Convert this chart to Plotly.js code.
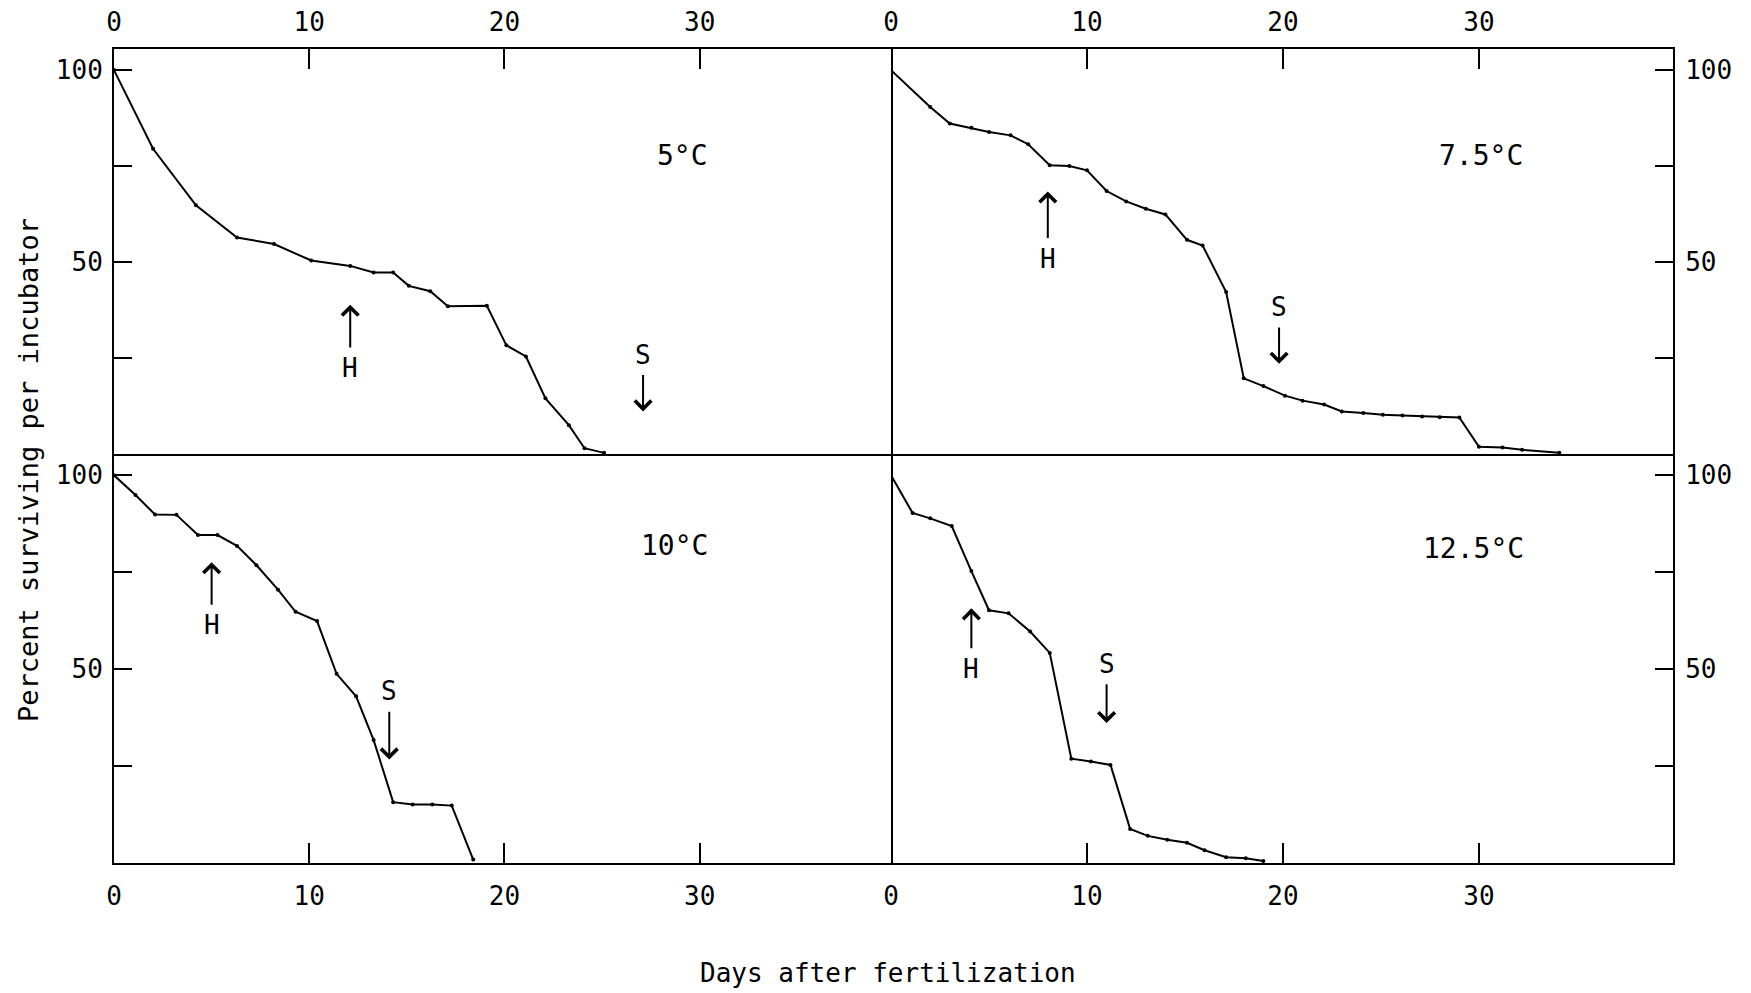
<!DOCTYPE html>
<html>
<head>
<meta charset="utf-8">
<script src="https://cdn.plot.ly/plotly-3.0.1.min.js"></script>
<style>html,body{margin:0;padding:0;background:#fff;}#chart{width:1751px;height:993px;}</style>
</head>
<body>
<div id="chart"></div>
<script>
// ---- data ----
const days5   = [0, 2.0, 4.2, 6.3, 8.2, 10.1, 12.1, 13.3, 14.3, 15.1, 16.2, 17.1, 19.1, 20.1, 21.1, 22.1, 23.3, 24.1, 25.1];
const surv5   = [100, 79.5, 64.8, 56.4, 54.7, 50.4, 49.0, 47.3, 47.3, 43.8, 42.4, 38.5, 38.6, 28.3, 25.4, 14.5, 7.5, 1.5, 0.3];

const days75  = [0, 2.0, 3.0, 4.1, 5.0, 6.1, 7.0, 8.1, 9.1, 10.0, 11.0, 12.0, 13.0, 14.0, 15.1, 15.9, 17.1, 18.0, 19.0, 20.1, 21.0, 22.1, 23.0, 24.1, 25.1, 26.1, 27.1, 28.0, 29.0, 30.0, 31.2, 32.2, 34.1];
const surv75  = [100, 90.4, 86.1, 85.0, 83.9, 83.0, 80.7, 75.2, 75.0, 73.9, 68.5, 65.8, 63.9, 62.4, 55.8, 54.3, 42.2, 19.7, 17.7, 15.2, 13.9, 12.9, 11.1, 10.7, 10.2, 10.0, 9.8, 9.6, 9.5, 1.9, 1.7, 1.1, 0.3];

const days10  = [0, 1.1, 2.1, 3.2, 4.3, 5.3, 6.3, 7.3, 8.4, 9.3, 10.4, 11.4, 12.4, 13.3, 14.3, 15.3, 16.3, 17.3, 18.4];
const surv10  = [100, 94.9, 89.9, 89.8, 84.6, 84.6, 81.8, 76.8, 70.5, 64.8, 62.4, 48.8, 43.0, 31.7, 15.7, 15.1, 15.1, 14.8, 0.9];

const days125 = [0, 1.1, 2.0, 3.1, 4.1, 5.0, 6.0, 7.1, 8.1, 9.2, 10.2, 11.2, 12.2, 13.1, 14.1, 15.1, 16.0, 17.1, 18.1, 19.0];
const surv125 = [100, 90.3, 88.9, 86.9, 75.3, 65.2, 64.4, 59.7, 54.2, 26.9, 26.2, 25.3, 8.8, 7.0, 6.0, 5.2, 3.3, 1.5, 1.2, 0.5];

const panelLabels = ['5°C', '7.5°C', '10°C', '12.5°C'];
const hatchDays   = [12.1, 8.0, 5.0, 4.1];   // "H" arrows
const swimDays    = [27.1, 19.8, 14.1, 11.0]; // "S" arrows

const xTickVals = [0, 10, 20, 30];
const xTickText = ['0', '10', '20', '30'];
const yTickVals = [25, 50, 75, 100];
const yTickText = ['', '50', '', '100'];

const xTitle = 'Days after fertilization';
const yTitle = 'Percent surviving per incubator';

// ---- layout ----
const W = 1751, H = 993;
const FONT = 'DejaVu Sans Mono, monospace';
const xL = [114 / W, 891 / W], xR = [891 / W, 1673 / W];
const yT = [1 - 454 / H, 1 - 49 / H], yB = [1 - 863 / H, 1 - 454 / H];

function trace(x, y, xa, ya) {
  return {x: x, y: y, xaxis: xa, yaxis: ya, type: 'scatter', mode: 'lines+markers',
    line: {color: '#000', width: 2}, marker: {color: '#000', size: 4}, hoverinfo: 'skip', showlegend: false};
}

function xAxis(domain, anchor, side, mirror, standoff) {
  return {domain: domain, anchor: anchor, side: side, range: [0, 39.8],
    tickvals: xTickVals, ticktext: xTickText, ticks: 'inside', ticklen: 20, tickwidth: 2, tickcolor: '#000',
    showline: true, mirror: mirror, linewidth: 2, linecolor: '#000', showgrid: false, zeroline: false,
    tickfont: {family: FONT, size: 26, color: '#000'}, ticklabelstandoff: standoff, fixedrange: true};
}
function yAxis(domain, anchor, side, mirror, standoff) {
  return {domain: domain, anchor: anchor, side: side, range: [0, 105.5],
    tickvals: yTickVals, ticktext: yTickText, ticks: 'inside', ticklen: 18, tickwidth: 2, tickcolor: '#000',
    showline: true, mirror: mirror, linewidth: 2, linecolor: '#000', showgrid: false, zeroline: false,
    tickfont: {family: FONT, size: 26, color: '#000'}, ticklabelstandoff: standoff, fixedrange: true};
}

const data = [
  trace(days5, surv5, 'x', 'y'),
  trace(days75, surv75, 'x2', 'y2'),
  trace(days10, surv10, 'x3', 'y3'),
  trace(days125, surv125, 'x4', 'y4')
];

const refs = [['x', 'y'], ['x2', 'y2'], ['x3', 'y3'], ['x4', 'y4']];
const labelPos = [[29.1, 77.8], [30.1, 77.8], [28.7, 81.8], [29.7, 81.0]];
// [text y, arrow tip y] for H and S in each panel
const hPos = [[22.4, 38.9], [50.9, 68.4], [61.3, 77.6], [50.1, 65.7]];
const sPos = [[25.9, 11.1], [38.3, 23.5], [44.3, 26.7], [51.4, 36.1]];

const annotations = [];
refs.forEach(function (r, i) {
  annotations.push({xref: r[0], yref: r[1], x: labelPos[i][0], y: labelPos[i][1], text: panelLabels[i],
    showarrow: false, font: {family: FONT, size: 28, color: '#000'}});
  annotations.push({xref: r[0], yref: r[1], axref: r[0], ayref: r[1],
    x: hatchDays[i], y: hPos[i][1], ax: hatchDays[i], ay: hPos[i][0], text: 'H',
    showarrow: true, arrowhead: 4, arrowsize: 1.6, arrowwidth: 2, arrowcolor: '#000', startstandoff: 4,
    font: {family: FONT, size: 26, color: '#000'}});
  annotations.push({xref: r[0], yref: r[1], axref: r[0], ayref: r[1],
    x: swimDays[i], y: sPos[i][1], ax: swimDays[i], ay: sPos[i][0], text: 'S',
    showarrow: true, arrowhead: 4, arrowsize: 1.6, arrowwidth: 2, arrowcolor: '#000', startstandoff: 4,
    font: {family: FONT, size: 26, color: '#000'}});
});
annotations.push({xref: 'paper', yref: 'paper', x: 888 / W, y: 1 - 973 / H, xanchor: 'center', yanchor: 'middle',
  text: xTitle, showarrow: false, font: {family: FONT, size: 26, color: '#000'}});
annotations.push({xref: 'paper', yref: 'paper', x: 28 / W, y: 1 - 470 / H, xanchor: 'center', yanchor: 'middle',
  text: yTitle, showarrow: false, textangle: -90, font: {family: FONT, size: 27, color: '#000'}});

const layout = {
  width: W, height: H, margin: {l: 0, r: 0, t: 0, b: 0},
  paper_bgcolor: '#fff', plot_bgcolor: '#fff', showlegend: false,
  xaxis: xAxis(xL, 'y', 'top', true, 6),      yaxis: yAxis(yT, 'x', 'left', true, 4),
  xaxis2: xAxis(xR, 'y2', 'top', true, 6),    yaxis2: yAxis(yT, 'x2', 'right', false, 5),
  xaxis3: xAxis(xL, 'y3', 'bottom', false, 9), yaxis3: yAxis(yB, 'x3', 'left', true, 4),
  xaxis4: xAxis(xR, 'y4', 'bottom', false, 9), yaxis4: yAxis(yB, 'x4', 'right', false, 5),
  annotations: annotations
};
layout.xaxis2.range = [0, 39.9];
layout.xaxis4.range = [0, 39.9];

Plotly.newPlot('chart', data, layout, {staticPlot: true, displayModeBar: false});
</script>
</body>
</html>
